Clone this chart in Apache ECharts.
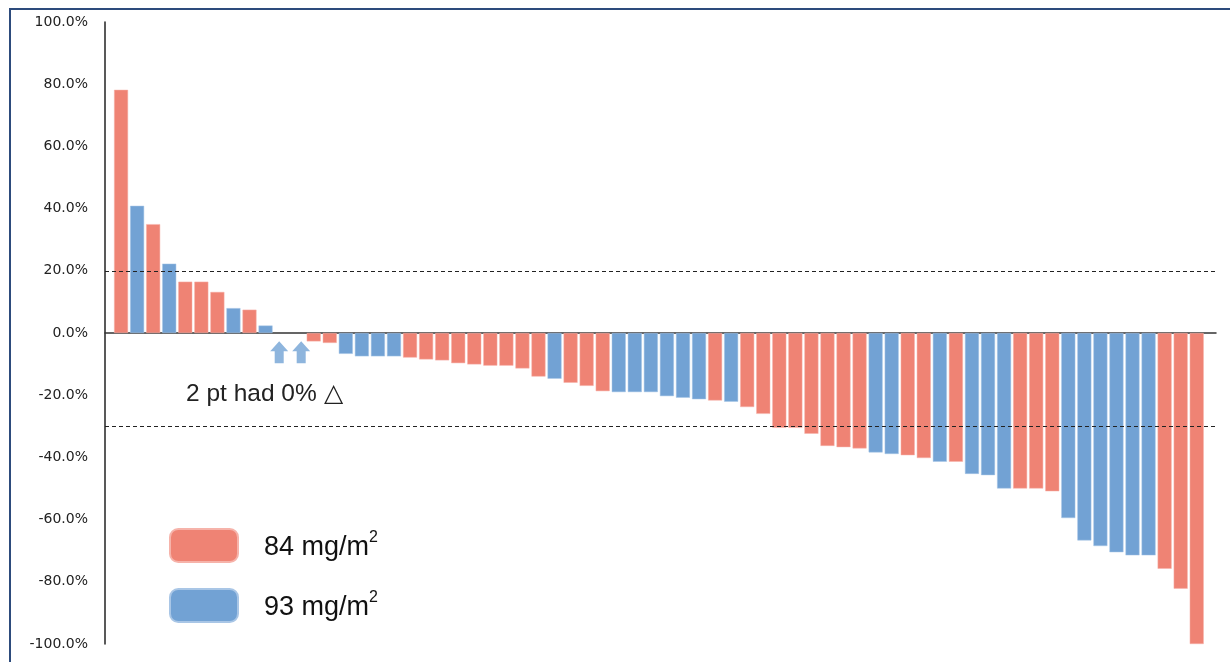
<!DOCTYPE html>
<html>
<head>
<meta charset="utf-8">
<script src="https://cdn.jsdelivr.net/npm/echarts@6/dist/echarts.min.js"></script>
<style>
  html, body { margin: 0; padding: 0; background: #fff; }
  #chart { width: 1230px; height: 662px; }
</style>
</head>
<body>
<div id="chart"></div>
<script>
// Patient index (1..68), % change from baseline, and dose group
const patients = [1,2,3,4,5,6,7,8,9,10,11,12,13,14,15,16,17,18,19,20,21,22,23,24,25,26,27,28,29,30,31,32,33,34,35,36,37,38,39,40,41,42,43,44,45,46,47,48,49,50,51,52,53,54,55,56,57,58,59,60,61,62,63,64,65,66,67,68];
const changes = [78.2,40.9,35.0,22.3,16.5,16.5,13.2,8.0,7.5,2.4,0,0,-2.7,-3.2,-6.7,-7.5,-7.5,-7.5,-7.9,-8.5,-8.8,-9.7,-10.1,-10.5,-10.5,-11.4,-14.0,-14.7,-16.0,-17.0,-18.7,-19.0,-19.0,-19.0,-20.3,-20.8,-21.3,-21.7,-22.1,-23.8,-26.0,-30.5,-30.5,-32.4,-36.3,-36.7,-37.1,-38.4,-38.9,-39.3,-40.2,-41.4,-41.4,-45.3,-45.7,-50.0,-50.0,-50.0,-50.9,-59.5,-66.7,-68.5,-70.5,-71.5,-71.5,-75.8,-82.2,-100.0];
const groups  = ['R','B','R','B','R','R','R','B','R','B','-','-','R','R','B','B','B','B','R','R','R','R','R','R','R','R','R','B','R','R','R','B','B','B','B','B','B','R','B','R','R','R','R','R','R','R','R','B','B','R','R','B','R','B','B','B','R','R','R','B','B','B','B','B','B','R','R','R'];
const seriesNames = ['84 mg/m2', '93 mg/m2'];
const yTicks = [-100,-80,-60,-40,-20,0,20,40,60,80,100];
const thresholds = [20, -30];
// Zero-change patients marked with arrows
const arrowX = [10.85, 12.22];
const arrowY = [-6.2, -6.2];

const RED = '#EF8374';
const BLUE = '#72A2D4';

const redData = [], blueData = [];
patients.forEach((p, i) => {
  if (groups[i] === 'R') redData.push([p, changes[i]]);
  else if (groups[i] === 'B') blueData.push([p, changes[i]]);
});
const arrowData = arrowX.map((x, i) => [x, arrowY[i]]);

const chart = echarts.init(document.getElementById('chart'), null, {renderer: 'canvas'});
chart.setOption({
  backgroundColor: '#fff',
  animation: false,
  grid: { left: 105, top: 22, width: 1111, height: 622, containLabel: false },
  xAxis: {
    type: 'value', min: 0, max: 69.2,
    axisLine: { show: true, onZero: true, lineStyle: { color: '#333', width: 1.5 } },
    axisTick: { show: false }, axisLabel: { show: false }, splitLine: { show: false }
  },
  yAxis: {
    type: 'value', min: yTicks[0], max: yTicks[yTicks.length - 1], interval: 20,
    axisLine: { show: true, lineStyle: { color: '#222', width: 1.5 } },
    axisTick: { show: false },
    splitLine: { show: false },
    axisLabel: {
      margin: 17, color: '#222', fontFamily: 'DejaVu Sans', fontSize: 14,
      formatter: v => v.toFixed(1) + '%'
    }
  },
  legend: {
    orient: 'vertical', left: 169, top: 528, padding: 0,
    itemWidth: 68, itemHeight: 33, itemGap: 25,
    data: seriesNames,
    formatter: name => '{a|' + name.slice(0, -1) + '}{s|' + name.slice(-1) + '}',
    textStyle: {
      rich: {
        a: { fontFamily: 'Liberation Sans', fontSize: 27, color: '#111', padding: [4, 0, 0, 21], lineHeight: 32 },
        s: { fontFamily: 'Liberation Sans', fontSize: 16, color: '#111', verticalAlign: 'top', lineHeight: 26 }
      }
    }
  },
  graphic: [
    { type: 'rect', shape: { x: 10, y: 9, width: 1240, height: 700 }, style: { fill: 'none', stroke: '#2D4B7C', lineWidth: 2 }, silent: true },
    { type: 'text', left: 186, top: 382, style: { text: '2 pt had 0% △', font: '24.5px "Liberation Sans"', fill: '#222' }, silent: true }
  ],
  series: [
    {
      name: seriesNames[0], type: 'bar', data: redData, barWidth: 14, barGap: '-100%',
      itemStyle: { color: RED, borderColor: '#F6B3AA', borderWidth: 0.5 },
      markLine: {
        silent: true, symbol: 'none',
        label: { show: false },
        lineStyle: { color: '#222', type: [4, 3], width: 1 },
        data: thresholds.map(t => ({ yAxis: t }))
      }
    },
    {
      name: seriesNames[1], type: 'bar', data: blueData, barWidth: 14, barGap: '-100%',
      itemStyle: { color: BLUE, borderColor: '#A9C6E6', borderWidth: 0.5 }
    },
    {
      name: 'zero', type: 'scatter', data: arrowData,
      symbol: 'path://M9,0 L18,10 L13.5,10 L13.5,22 L4.5,22 L4.5,10 L0,10 Z',
      symbolSize: [18, 22], symbolKeepAspect: false,
      itemStyle: { color: BLUE }, silent: true
    }
  ]
});
</script>
</body>
</html>
